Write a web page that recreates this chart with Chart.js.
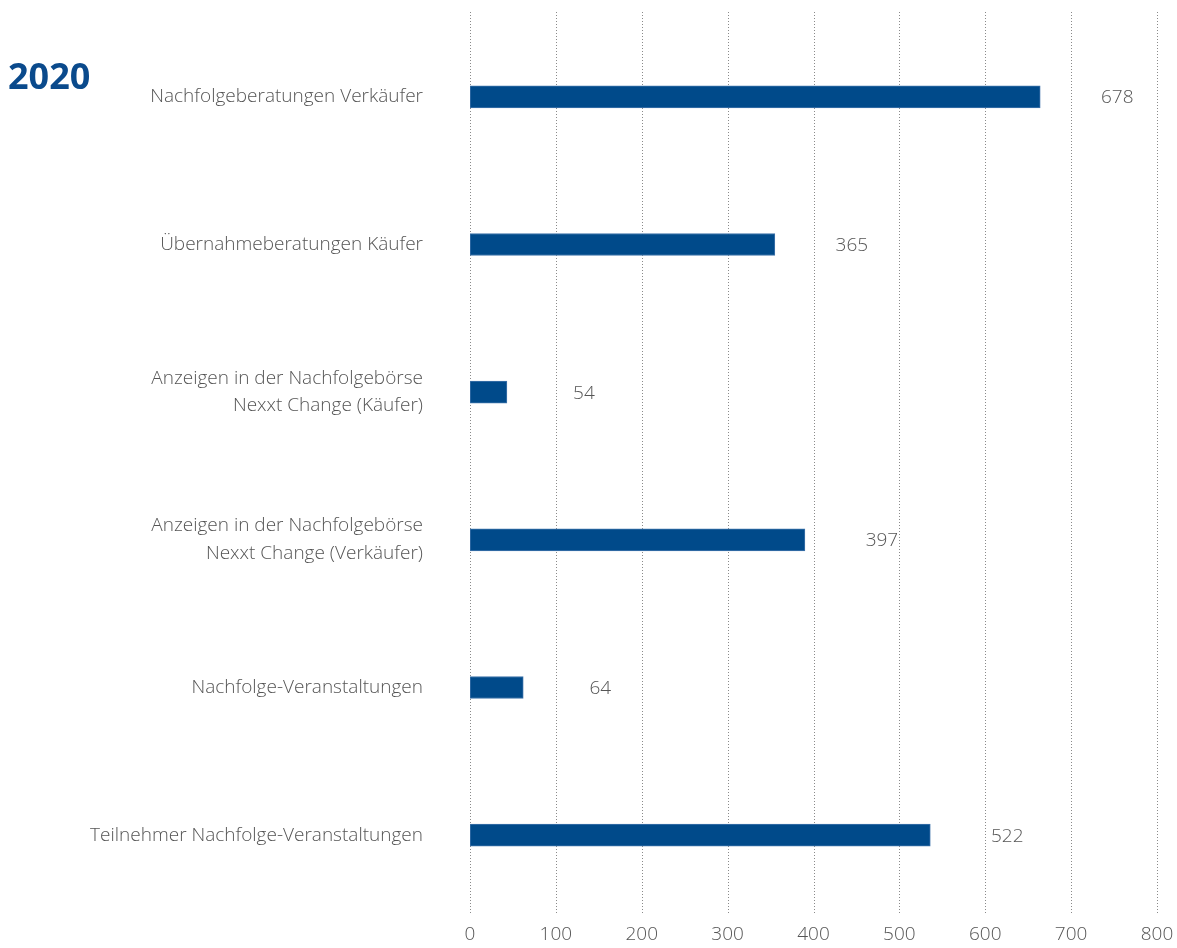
<!DOCTYPE html>
<html>
<head>
<meta charset="utf-8">
<script src="https://cdn.jsdelivr.net/npm/chart.js@4"></script>
<style>
  html, body { margin: 0; padding: 0; background: #fff; }
  #wrap { position: relative; width: 1177px; height: 948px; }
  #year { position: absolute; left: 8px; top: 51px; font: bold 36px "Open Sans", sans-serif; color: #0a4a8c; }
</style>
</head>
<body>
<div id="wrap">
  <canvas id="chart" width="1177" height="948"></canvas>
  <div id="year">2020</div>
</div>
<script>
// categories
const categories = [
    'Nachfolgeberatungen Verkäufer',
    'Übernahmeberatungen Käufer',
    ['Anzeigen in der Nachfolgebörse', 'Nexxt Change (Käufer)'],
    ['Anzeigen in der Nachfolgebörse', 'Nexxt Change (Verkäufer)'],
    'Nachfolge-Veranstaltungen',
    'Teilnehmer Nachfolge-Veranstaltungen'
];
// bar lengths as drawn in the picture
const barValues = [664, 355, 43, 390, 62, 536];
// numbers printed next to the bars
const valueLabels = ['678', '365', '54', '397', '64', '522'];
const xTicks = [0, 100, 200, 300, 400, 500, 600, 700, 800];

const textColor = '#555';
const gridColor = '#8a8a8a';
const fontFamily = '"Open Sans", sans-serif';

// dotted grid from the top of the page down past the chart area,
// and the numbers to the right of each bar
const extras = {
    id: 'extras',
    beforeDatasetsDraw(chart) {
        const ctx = chart.ctx;
        const x = chart.scales.x;
        ctx.save();
        ctx.strokeStyle = gridColor;
        ctx.lineWidth = 1;
        ctx.setLineDash([1, 2]);
        xTicks.forEach(t => {
            const px = Math.round(x.getPixelForValue(t)) + 0.5;
            ctx.beginPath();
            ctx.moveTo(px, 12);
            ctx.lineTo(px, chart.chartArea.bottom + 6);
            ctx.stroke();
        });
        ctx.restore();
    },
    afterDatasetsDraw(chart) {
        const ctx = chart.ctx;
        const meta = chart.getDatasetMeta(0);
        ctx.save();
        ctx.font = '300 19px ' + fontFamily;
        ctx.fillStyle = textColor;
        ctx.textAlign = 'center';
        ctx.textBaseline = 'middle';
        meta.data.forEach((bar, i) => {
            ctx.fillText(valueLabels[i], bar.x + 77, bar.y + 1);
        });
        ctx.restore();
    }
};

new Chart(document.getElementById('chart'), {
    type: 'bar',
    data: {
        labels: categories,
        datasets: [{
            data: barValues,
            backgroundColor: '#004a8a',
            borderColor: '#3f74ab',
            borderWidth: 1,
            borderSkipped: false,
            barThickness: 22
        }]
    },
    options: {
        indexAxis: 'y',
        responsive: false,
        animation: false,
        layout: { padding: { top: 23, right: 20, left: 0, bottom: 0 } },
        plugins: {
            legend: { display: false },
            tooltip: { enabled: false }
        },
        scales: {
            x: {
                min: 0,
                max: 800,
                afterBuildTicks(scale) {
                    scale.ticks = xTicks.map(v => ({ value: v }));
                },
                afterFit(scale) {
                    scale.height = 39;
                    scale.paddingLeft = 0;
                    scale.paddingRight = 0;
                },
                border: { display: false },
                grid: { display: false, drawTicks: false },
                ticks: {
                    color: textColor,
                    padding: 14,
                    font: { family: fontFamily, size: 19, weight: 300 }
                }
            },
            y: {
                afterFit(scale) {
                    scale.width = 470;
                    scale.paddingTop = 0;
                    scale.paddingBottom = 0;
                },
                border: { display: false },
                grid: { display: false, drawTicks: false },
                ticks: {
                    color: textColor,
                    padding: 47,
                    font: { family: fontFamily, size: 19, weight: 300, lineHeight: 1.45 }
                }
            }
        }
    },
    plugins: [extras]
});
</script>
</body>
</html>
